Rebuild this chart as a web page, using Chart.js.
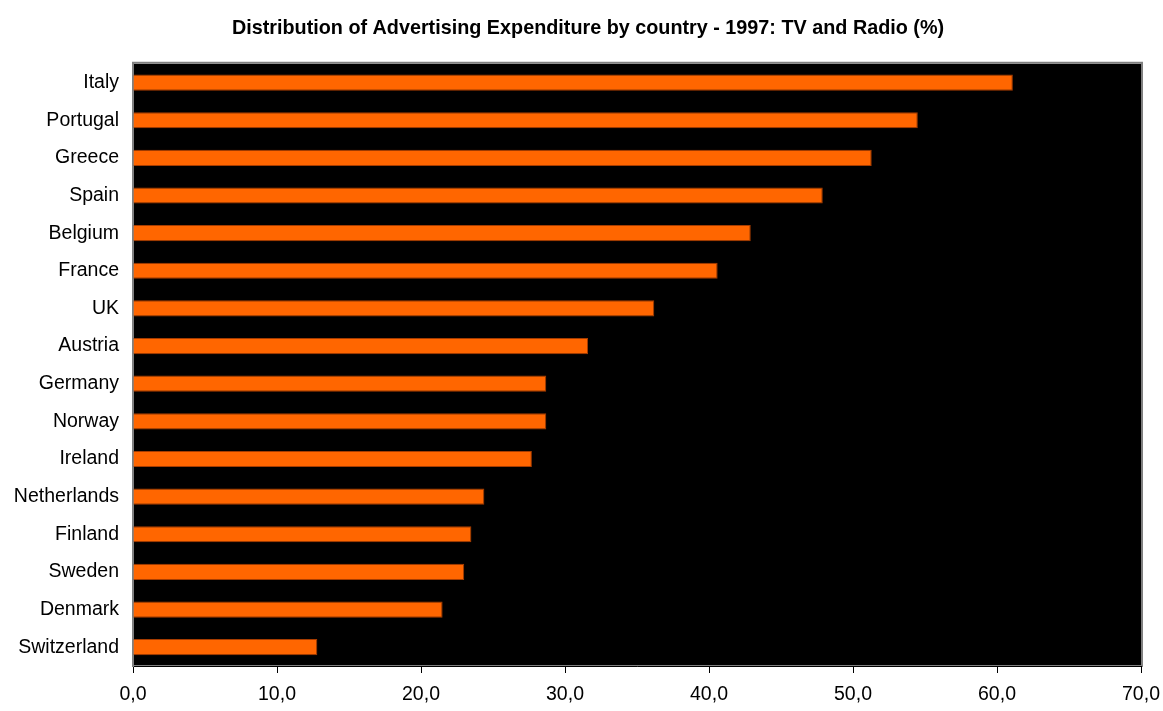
<!DOCTYPE html>
<html>
<head>
<meta charset="utf-8">
<title>Advertising Expenditure 1997</title>
<script src="https://cdn.jsdelivr.net/npm/chart.js@4/dist/chart.umd.min.js"></script>
<style>
  html, body { margin: 0; padding: 0; background: #fff; }
  #wrap { width: 1163px; height: 711px; position: relative; }
</style>
</head>
<body>
<div id="wrap"><canvas id="adChart"></canvas></div>
<script>
// share of TV + radio in total ad spend, 1997
const countries = ['Italy', 'Portugal', 'Greece', 'Spain', 'Belgium', 'France', 'UK', 'Austria',
  'Germany', 'Norway', 'Ireland', 'Netherlands', 'Finland', 'Sweden', 'Denmark', 'Switzerland'];
const tvRadioShare = [61.1, 54.5, 51.3, 47.9, 42.9, 40.6, 36.2, 31.6,
  28.7, 28.7, 27.7, 24.4, 23.5, 23.0, 21.5, 12.8];
const axisMin = 0;
const axisMax = 70;
const axisStep = 10;

Chart.defaults.font.family = '"Liberation Sans", Arial, sans-serif';
Chart.defaults.color = '#000';

// black plot area with a grey frame
const plotBackground = {
  id: 'plotBackground',
  afterLayout(chart) {
    // nudge the title a little to the right
    if (chart.titleBlock) chart.titleBlock.left = 13;
  },
  beforeDraw(chart) {
    const { ctx, chartArea: a } = chart;
    ctx.save();
    ctx.fillStyle = '#000';
    ctx.fillRect(a.left, a.top, a.right - a.left, a.bottom - a.top);
    ctx.strokeStyle = '#808080';
    ctx.lineWidth = 2;
    ctx.strokeRect(a.left, a.top - 1, a.right - a.left + 1, a.bottom - a.top + 1);
    ctx.restore();
  }
};

new Chart(document.getElementById('adChart'), {
  type: 'bar',
  data: {
    labels: countries,
    datasets: [{
      data: tvRadioShare,
      backgroundColor: '#ff6600',
      borderColor: '#a63c00',
      borderWidth: 1,
      barPercentage: 0.43,
      categoryPercentage: 1
    }]
  },
  options: {
    indexAxis: 'y',
    responsive: true,
    maintainAspectRatio: false,
    animation: false,
    layout: { padding: 0 },
    plugins: {
      legend: { display: false },
      tooltip: { enabled: false },
      title: {
        display: true,
        text: 'Distribution of Advertising Expenditure by country - 1997: TV and Radio (%)',
        font: { size: 19.8, weight: 'bold' },
        padding: { top: 17, bottom: 23 }
      }
    },
    scales: {
      x: {
        min: axisMin,
        max: axisMax,
        grid: { drawOnChartArea: false, drawTicks: true, tickLength: 7, color: '#000' },
        border: { color: '#000', width: 1 },
        ticks: {
          stepSize: axisStep,
          padding: 10,
          font: { size: 19.5 },
          maxRotation: 0,
          callback: v => v.toFixed(1).replace('.', ',')
        },
        afterFit(scale) {
          scale.height = 45;
          scale.paddingRight = 22;
        }
      },
      y: {
        offset: true,
        grid: { display: false },
        border: { color: '#808080', width: 2 },
        ticks: { padding: 6, font: { size: 19.5 } },
        afterFit(scale) { scale.width = 133; }
      }
    }
  },
  plugins: [plotBackground]
});
</script>
</body>
</html>
